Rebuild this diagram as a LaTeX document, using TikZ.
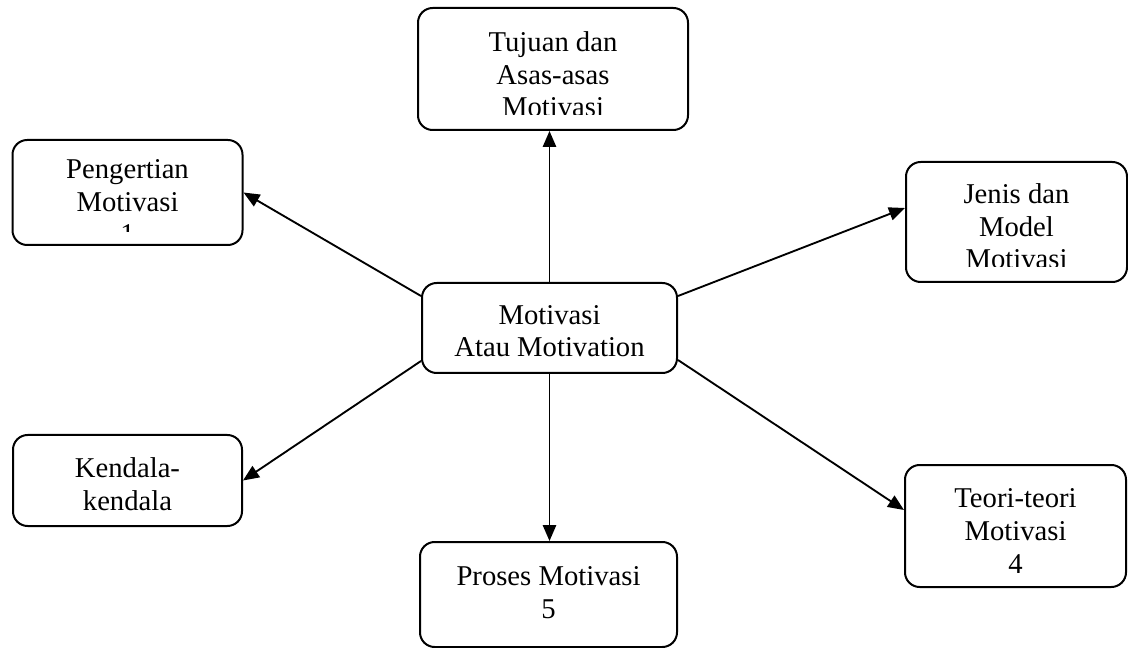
\documentclass[tikz,border=0pt]{standalone}
\usepackage{fontspec}
\setmainfont{Liberation Serif}
\usetikzlibrary{arrows.meta}
\usetikzlibrary{calc}

\tikzset{
  box/.style={draw,line width=1.5pt,rounded corners=11pt,inner sep=0pt},
  boxtext/.style n args={3}{box,path picture={
      \clip ([yshift=#3]path picture bounding box.south west) rectangle (path picture bounding box.north east);
      \node[anchor=base,align=center,inner sep=0pt,font=\fontsize{21.5pt}{24.5pt}\selectfont]
        at ([yshift=-#2]path picture bounding box.north) {#1};}},
  link/.style={->,line width=1.4pt},
}

\begin{document}
\begin{tikzpicture}[x=0.75pt,y=-0.75pt,>={Triangle[length=12pt,width=10pt]}]
      \useasboundingbox (0,0) rectangle (1128,648);
      \node[boxtext={Motivasi\\Atau Motivation}{55.5pt}{0pt},minimum width=191.25pt,minimum height=67.5pt] (motiv) at (549.5,328) {};
      \node[boxtext={Tujuan dan\\Asas-asas\\Motivasi}{81.75pt}{11.25pt},minimum width=202.5pt,minimum height=91.5pt] (tujuan) at (553,69) {};
      \node[boxtext={Pengertian\\Motivasi\\1}{78pt}{9.75pt},minimum width=172.5pt,minimum height=78.75pt] (pengert) at (127.5,192.5) {};
      \node[boxtext={Jenis dan\\Model\\Motivasi}{80.25pt}{11.25pt},minimum width=165.75pt,minimum height=90pt] (jenis) at (1016.5,222) {};
      \node[boxtext={Kendala-\\kendala}{56.25pt}{0pt},minimum width=171.75pt,minimum height=68.25pt] (kendala) at (127.5,480.5) {};
      \node[boxtext={Teori-teori\\Motivasi\\4}{81pt}{0pt},minimum width=165.75pt,minimum height=91.5pt] (teori) at (1015.5,526) {};
      \node[boxtext={Proses Motivasi\\5}{57pt}{0pt},minimum width=192.75pt,minimum height=78.75pt] (proses) at (548.5,594.5) {};
      \draw[link] (motiv.north) -- (motiv.north |- tujuan.south);
      \draw[link] (motiv.south) -- (motiv.south |- proses.north);
      \draw[link] ($(motiv.north west)+(0,14)$) -- (pengert.east);
      \draw[link] ($(motiv.south west)+(0,-13)$) -- (kendala.east);
      \draw[link] ($(motiv.north east)+(0,14)$) -- ($(jenis.west)+(0,-14)$);
      \draw[link] ($(motiv.south east)+(0,-14)$) -- ($(teori.west)+(0,-16)$);
\end{tikzpicture}
\end{document}
